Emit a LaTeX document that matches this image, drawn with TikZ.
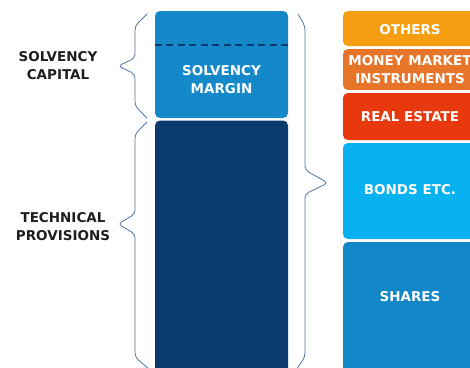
\documentclass[tikz,border=0pt]{standalone}
\usepackage{fontspec}
\setmainfont{DejaVu Sans}
\definecolor{smblue}{HTML}{1488C8}
\definecolor{tpnavy}{HTML}{0A3A6E}
\definecolor{othcol}{HTML}{F59E12}
\definecolor{mmcol}{HTML}{E6752A}
\definecolor{recol}{HTML}{E8380E}
\definecolor{bdcol}{HTML}{08B2F0}
\definecolor{shcol}{HTML}{1187C8}
\definecolor{bracecol}{HTML}{4F74A8}
\definecolor{labcol}{HTML}{1E1E1E}
\begin{document}
\begin{tikzpicture}[x=1pt,y=-1pt,
  block/.style={rounded corners=5pt, inner sep=0pt, draw=none},
  boxtext/.style={text=white, align=center, inner sep=0pt,
    font=\fontsize{13.5}{18}\selectfont\bfseries},
  sidelabel/.style={text=labcol, align=center, inner sep=0pt,
    font=\fontsize{13.5}{18}\selectfont\bfseries},
  brace/.style={draw=bracecol, line width=0.8pt, rounded corners=4pt}]
\useasboundingbox (0,0) rectangle (470,367);
\clip (0,0) rectangle (470,367);

% liabilities column
\node[block, fill=smblue, minimum width=133pt, minimum height=107pt] (sm) at (221.5,64.5) {};
\node[block, fill=tpnavy, minimum width=133pt, minimum height=252pt] (tp) at (221.5,246.5) {};
\draw[tpnavy, line width=2.4pt, dash pattern=on 7pt off 4.5pt] (sm.west |- 0,45) -- (sm.east |- 0,45);
\node[boxtext] (smt) at (221.5,80) {SOLVENCY\\MARGIN};

% assets column
\node[block, fill=othcol, minimum width=134pt, minimum height=35pt] (oth) at (410,28.5) {};
\node[block, fill=mmcol, minimum width=134pt, minimum height=41pt] (mm) at (410,69.5) {};
\node[block, fill=recol, minimum width=134pt, minimum height=47pt] (re) at (410,116.5) {};
\node[block, fill=bdcol, minimum width=134pt, minimum height=96pt] (bd) at (410,191) {};
\node[block, fill=shcol, minimum width=134pt, minimum height=132pt] (sh) at (410,308) {};
\node[boxtext] (otht) at (410,30) {OTHERS};
\node[boxtext] (mmt) at (410,69.5) {MONEY MARKET\\INSTRUMENTS};
\node[boxtext] (ret) at (410,117) {REAL ESTATE};
\node[boxtext] (bdt) at (410,190) {BONDS ETC.};
\node[boxtext] (sht) at (410,297) {SHARES};

% side labels
\node[sidelabel] (sc) at (58,65.5) {SOLVENCY\\CAPITAL};
\node[sidelabel] (tpl) at (63,227) {TECHNICAL\\PROVISIONS};

% braces
\draw[brace] (147,14) -- (135,26) -- (135,58) -- (118,66) -- (135,74) -- (135,106) -- (147,118);
\draw[brace] (147,122) -- (135,134) -- (135,214) -- (118,224) -- (135,234) -- (135,357) -- (150,370);
\draw[brace] (298,14) -- (305,26) -- (305,170) -- (328,183) -- (305,194) -- (305,357) -- (296,370);
\end{tikzpicture}
\end{document}
